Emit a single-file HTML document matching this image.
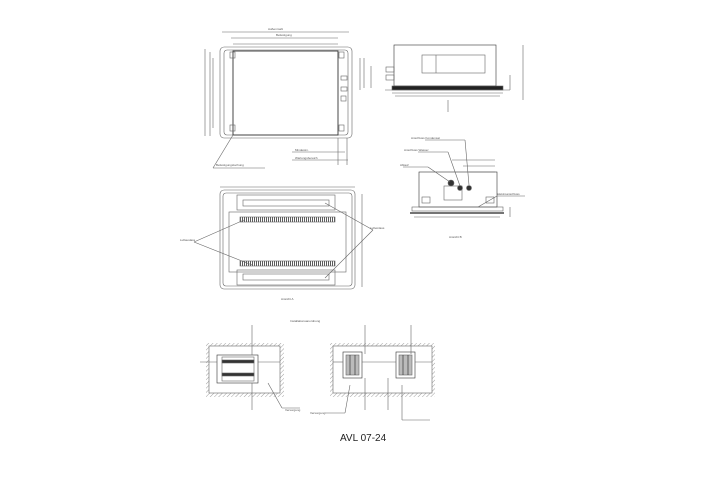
<!DOCTYPE html>
<html><head><style>body{margin:0;background:#fff}svg{display:block}text{font-family:"Liberation Sans",sans-serif;fill:#555}</style></head>
<body>
<svg width="720" height="479" viewBox="0 0 720 479" xmlns="http://www.w3.org/2000/svg">
<defs>
<pattern id="h" width="3" height="3" patternUnits="userSpaceOnUse" patternTransform="rotate(45)"><line x1="0" y1="0" x2="0" y2="3" stroke="#777" stroke-width="0.7"/></pattern>
<pattern id="g" width="2" height="4" patternUnits="userSpaceOnUse"><line x1="0.5" y1="0" x2="0.5" y2="4" stroke="#333" stroke-width="0.8"/></pattern>
</defs>
<g fill="none" stroke="#666" stroke-width="0.6">
<!-- top plan -->
<rect x="220" y="47" width="132" height="91" rx="4"/>
<rect x="224" y="50" width="124" height="85" rx="3"/>
<rect x="233" y="51" width="105" height="84" stroke="#333" stroke-width="0.9"/>
<rect x="230" y="52" width="5" height="6"/><rect x="339" y="52" width="5" height="6"/>
<rect x="230" y="125" width="5" height="6"/><rect x="339" y="125" width="5" height="6"/>
<rect x="341" y="76" width="6" height="4"/><rect x="341" y="87" width="6" height="4"/><rect x="341" y="96" width="5" height="5"/>
<line x1="222" y1="32" x2="349" y2="32"/><line x1="231" y1="38" x2="338" y2="38"/><line x1="233" y1="44" x2="338" y2="44"/>
<line x1="205" y1="49" x2="205" y2="136"/><line x1="210" y1="52" x2="210" y2="136"/><line x1="213" y1="58" x2="213" y2="128"/>
<line x1="360" y1="58" x2="360" y2="90"/>
<line x1="233" y1="135" x2="213" y2="168"/><line x1="213" y1="168" x2="265" y2="168"/>
<line x1="292" y1="152" x2="345" y2="152"/><line x1="292" y1="160" x2="348" y2="160"/><line x1="338" y1="138" x2="338" y2="165"/><line x1="347" y1="138" x2="347" y2="165"/>
<!-- side view -->
<rect x="394" y="45" width="102" height="41" stroke="#333"/>
<rect x="422" y="55" width="63" height="18"/><line x1="436" y1="55" x2="436" y2="73"/>
<rect x="386" y="67" width="8" height="5"/><rect x="386" y="75" width="8" height="5"/>
<rect x="392" y="86" width="111" height="4" fill="#222"/>
<line x1="385" y1="90" x2="510" y2="90"/><line x1="392" y1="93" x2="503" y2="93"/><line x1="395" y1="96" x2="500" y2="96"/>
<line x1="364" y1="58" x2="364" y2="88"/><line x1="371" y1="66" x2="371" y2="88"/>
<line x1="523" y1="45" x2="523" y2="100"/><line x1="510" y1="75" x2="510" y2="90"/>
<line x1="448" y1="100" x2="448" y2="112"/>
<!-- right bottom view -->
<rect x="419" y="172" width="78" height="35" stroke="#333"/>
<rect x="444" y="186" width="18" height="14"/>
<circle cx="451" cy="183" r="3" fill="#333"/><circle cx="460" cy="188" r="2.5" fill="#333"/><circle cx="469" cy="188" r="2.5" fill="#333"/>
<rect x="422" y="197" width="8" height="6"/><rect x="486" y="197" width="8" height="6"/>
<rect x="412" y="207" width="91" height="4"/><line x1="410" y1="213" x2="504" y2="213" stroke="#222" stroke-width="1.2"/><line x1="414" y1="217" x2="500" y2="217"/>
<line x1="452" y1="160" x2="495" y2="160"/><line x1="463" y1="166" x2="495" y2="166"/><line x1="469" y1="172" x2="495" y2="172"/>
<line x1="425" y1="140" x2="465" y2="140"/><line x1="465" y1="140" x2="469" y2="185"/>
<line x1="418" y1="152" x2="448" y2="152"/><line x1="448" y1="152" x2="460" y2="186"/>
<line x1="403" y1="167" x2="428" y2="167"/><line x1="428" y1="167" x2="450" y2="182"/>
<line x1="497" y1="196" x2="525" y2="196"/><line x1="497" y1="196" x2="478" y2="207"/>
<line x1="510" y1="207" x2="510" y2="217"/>
<!-- middle view -->
<rect x="220" y="190" width="135" height="99" rx="4"/><rect x="223" y="193" width="129" height="93" rx="3"/>
<rect x="237" y="195" width="98" height="15"/><rect x="243" y="200" width="86" height="6"/>
<rect x="237" y="270" width="98" height="15"/><rect x="243" y="274" width="86" height="6"/>
<rect x="229" y="212" width="117" height="60"/>
<rect x="240" y="217" width="95" height="5" fill="url(#g)"/>
<rect x="240" y="261" width="95" height="5" fill="url(#g)"/>
<line x1="220" y1="187" x2="355" y2="187"/><line x1="362" y1="194" x2="362" y2="287"/>
<line x1="194" y1="242" x2="244" y2="220"/><line x1="194" y1="242" x2="252" y2="265"/>
<line x1="373" y1="230" x2="325" y2="203"/><line x1="373" y1="230" x2="325" y2="278"/>
<!-- bottom left room -->
<path d="M206,343 H284 V397 H206 Z" fill="url(#h)" stroke="none"/>
<rect x="209" y="346" width="71" height="47" fill="#fff"/>
<rect x="217" y="355" width="41" height="28" stroke="#333"/><rect x="222" y="357" width="32" height="24"/>
<rect x="222" y="360" width="32" height="3" fill="#333"/><rect x="222" y="373" width="32" height="3" fill="#333"/>
<line x1="200" y1="362" x2="217" y2="362"/><line x1="258" y1="362" x2="280" y2="362"/>
<line x1="252" y1="325" x2="252" y2="355"/><line x1="252" y1="383" x2="252" y2="410"/>
<line x1="268" y1="383" x2="282" y2="408"/><line x1="282" y1="408" x2="300" y2="408"/>
<!-- bottom right room -->
<path d="M330,343 H435 V397 H330 Z" fill="url(#h)" stroke="none"/>
<rect x="333" y="346" width="99" height="47" fill="#fff"/>
<rect x="343" y="352" width="19" height="26" stroke="#333"/><rect x="346" y="355" width="13" height="20" fill="#bbb"/><line x1="350" y1="355" x2="350" y2="375" stroke="#222"/><line x1="355" y1="355" x2="355" y2="375" stroke="#222"/>
<rect x="396" y="352" width="19" height="26" stroke="#333"/><rect x="399" y="355" width="13" height="20" fill="#bbb"/><line x1="403" y1="355" x2="403" y2="375" stroke="#222"/><line x1="408" y1="355" x2="408" y2="375" stroke="#222"/>
<line x1="333" y1="362" x2="343" y2="362"/><line x1="362" y1="362" x2="396" y2="362"/><line x1="415" y1="362" x2="432" y2="362"/>
<line x1="365" y1="325" x2="365" y2="354"/><line x1="411" y1="325" x2="411" y2="354"/>
<line x1="365" y1="378" x2="365" y2="410"/><line x1="388" y1="378" x2="388" y2="410"/>
<line x1="350" y1="385" x2="345" y2="413"/><line x1="325" y1="413" x2="345" y2="413"/>
<line x1="402" y1="385" x2="402" y2="420"/><line x1="402" y1="420" x2="430" y2="420"/>
</g>
<g font-size="3">
<text x="268" y="30">Außenmaß</text><text x="276" y="36">Befestigung</text>
<text x="295" y="151">Mindestm.</text><text x="295" y="159">Wartungsbereich</text>
<text x="216" y="166">Befestigungslochung</text>
<text x="411" y="139">Anschluss Kondensat</text><text x="404" y="151">Anschluss Wasser</text><text x="400" y="166">Ablauf</text>
<text x="497" y="195">Elektroanschluss</text>
<text x="449" y="238">Ansicht B</text><text x="281" y="300">Ansicht A</text>
<text x="180" y="241">Luftauslass</text><text x="370" y="229">Lufteinlass</text>
<text x="290" y="322">Installationsanordnung</text>
<text x="285" y="411">Versorgung</text><text x="310" y="414">Versorgung</text>
</g>
<text x="340" y="441" font-size="10" style="fill:#222">AVL 07-24</text>
</svg>
</body></html>
